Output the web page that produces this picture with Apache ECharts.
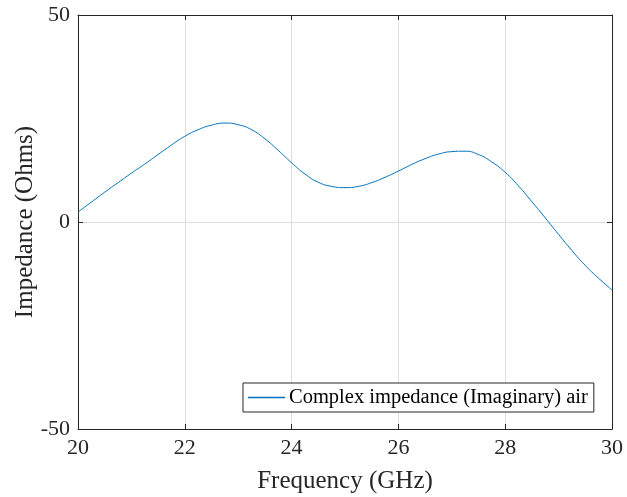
<!DOCTYPE html>
<html>
<head>
<meta charset="utf-8">
<script src="https://cdn.jsdelivr.net/npm/echarts@6/dist/echarts.min.js"></script>
<style>html,body{margin:0;padding:0;background:#fff;}#c{width:627px;height:497px;}</style>
</head>
<body>
<div id="c"></div>
<script>
const freq = [20,20.25,20.5,20.75,21,21.25,21.5,21.75,22,22.25,22.5,22.75,23,23.25,23.5,23.75,24,24.25,24.5,24.75,25,25.25,25.5,25.75,26,26.25,26.5,26.75,27,27.25,27.5,27.75,28,28.25,28.5,28.75,29,29.25,29.5,29.75,30];
const impImag = [2.4,4.8,7.2,9.5,11.8,14.0,16.3,18.6,20.7,22.3,23.4,23.9,23.5,22.3,20.1,17.3,14.3,11.6,9.6,8.6,8.3,8.6,9.5,10.8,12.3,13.9,15.3,16.4,17.0,17.1,16.3,14.5,12.0,8.7,4.9,1.0,-3.0,-6.9,-10.5,-13.6,-16.4];
const seriesName = 'Complex impedance (Imaginary) air';
const xTicks = [20,22,24,26,28,30];
const yTicks = [-50,0,50];

const font = 'Liberation Serif, Times New Roman, serif';
const axisColor = '#262626';
const chart = echarts.init(document.getElementById('c'));
const data = freq.map((f,i)=>[f, impImag[i]]);
const baseX = {
  type:'value', min:20, max:30, interval:2,
  axisLine:{show:true, onZero:false, lineStyle:{color:axisColor, width:1}},
  axisTick:{show:true, inside:true, length:5, lineStyle:{color:axisColor}},
  splitLine:{show:false}
};
const baseY = {
  type:'value', min:-50, max:50, interval:50,
  axisLine:{show:true, onZero:false, lineStyle:{color:axisColor, width:1}},
  axisTick:{show:true, inside:true, length:5, lineStyle:{color:axisColor}},
  splitLine:{show:false}
};
chart.setOption({
  animation:false,
  backgroundColor:'#fff',
  grid:{left:78, right:15, top:15, bottom:68, containLabel:false, outerBoundsMode:'none'},
  legend:{
    show:true, left:243, top:383,
    data:[seriesName],
    backgroundColor:'#fff', borderColor:axisColor, borderWidth:1,
    padding:[4,6,4,5], itemWidth:37, itemHeight:1.5, icon:'rect', itemGap:4,
    textStyle:{fontFamily:font, fontSize:20.5, color:'#000', padding:[0,0,0,-1]}
  },
  xAxis:[
    Object.assign({}, baseX, {position:'bottom',
      name:'Frequency (GHz)', nameLocation:'middle', nameGap:40, nameMoveOverlap:false,
      nameTextStyle:{fontFamily:font, fontSize:25, color:axisColor},
      axisLabel:{show:true, margin:8, fontFamily:font, fontSize:22, color:axisColor,
        formatter:v=> xTicks.includes(v) ? String(v) : ''},
      splitLine:{show:true, lineStyle:{color:'#dfdfdf', width:1}}}),
    Object.assign({}, baseX, {position:'top', axisLabel:{show:false}})
  ],
  yAxis:[
    Object.assign({}, baseY, {position:'left',
      name:'Impedance (Ohms)', nameLocation:'middle', nameGap:40, nameMoveOverlap:false,
      nameTextStyle:{fontFamily:font, fontSize:25, color:axisColor},
      axisLabel:{show:true, margin:8, fontFamily:font, fontSize:22, color:axisColor,
        formatter:v=> yTicks.includes(v) ? String(v) : ''},
      splitLine:{show:true, lineStyle:{color:'#dfdfdf', width:1}}}),
    Object.assign({}, baseY, {position:'right', axisLabel:{show:false}})
  ],
  series:[{
    name:seriesName, type:'line', data:data, smooth:0.5, showSymbol:false, symbol:'none',
    xAxisIndex:0, yAxisIndex:0,
    lineStyle:{color:'#0072BD', width:1}, itemStyle:{color:'#0072BD'}
  }]
});
</script>
</body>
</html>
